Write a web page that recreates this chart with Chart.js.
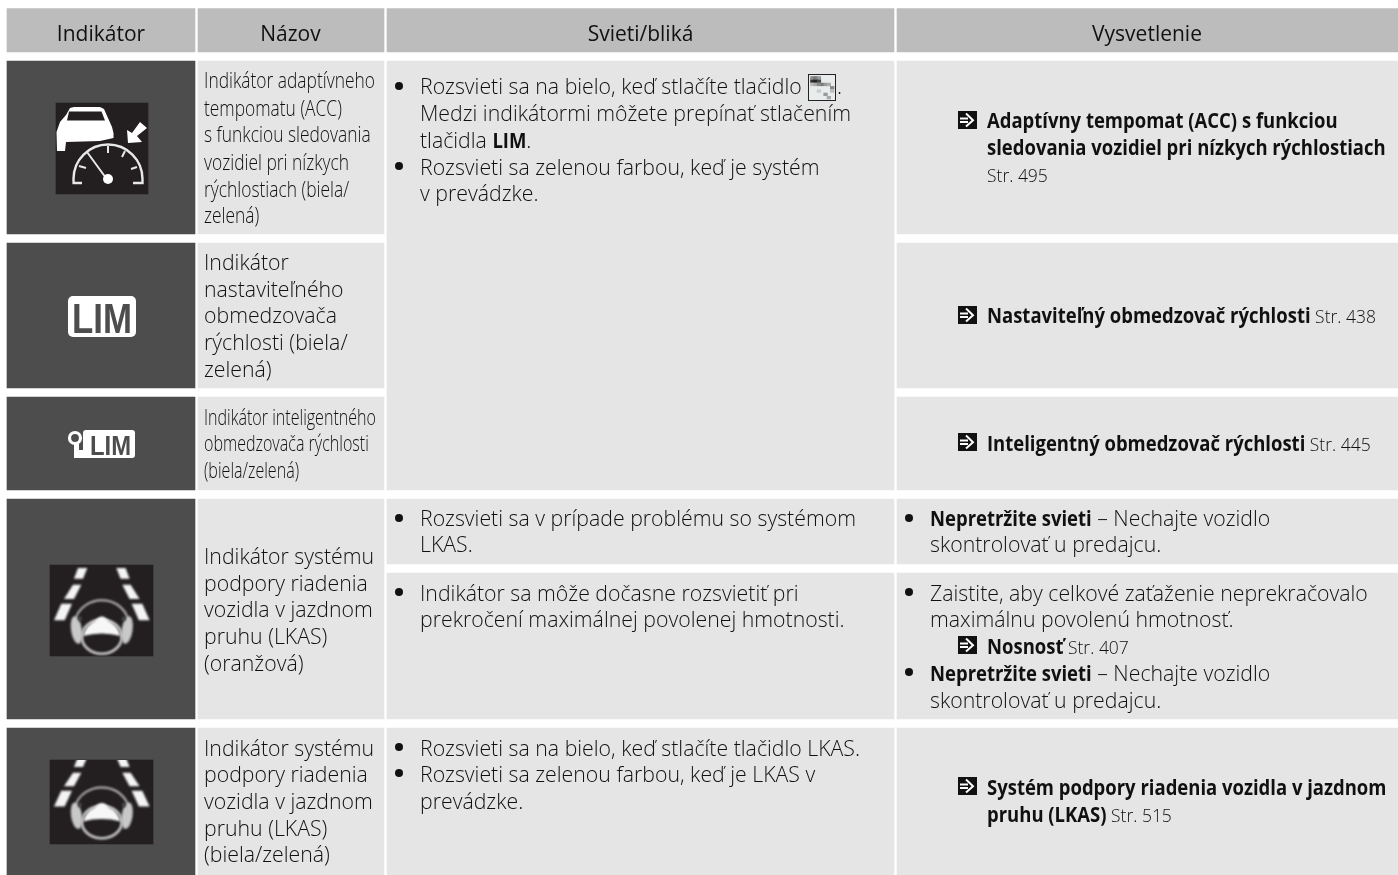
<!DOCTYPE html>
<html lang="sk"><head><meta charset="utf-8"><title>Indikátory</title>
<style>html,body{margin:0;padding:0;background:#fff}canvas{display:block}</style>
<script src="https://cdn.jsdelivr.net/npm/chart.js@4/dist/chart.umd.min.js"></script>
</head><body><canvas id="c" width="1398" height="875"></canvas>
<script>
// ---- content ----
const columnHeaders = ["Indikátor","Názov","Svieti/bliká","Vysvetlenie"];
const nameAcc = ["Indikátor adaptívneho","tempomatu (ACC)","s funkciou sledovania","vozidiel pri nízkych","rýchlostiach (biela/","zelená)"];
const nameLim = ["Indikátor","nastaviteľného","obmedzovača","rýchlosti (biela/","zelená)"];
const nameSmart = ["Indikátor inteligentného","obmedzovača rýchlosti","(biela/zelená)"];
const nameLkasOrange = ["Indikátor systému","podpory riadenia","vozidla v jazdnom","pruhu (LKAS)","(oranžová)"];
const nameLkasWhite = ["Indikátor systému","podpory riadenia","vozidla v jazdnom","pruhu (LKAS)","(biela/zelená)"];
const lampUpper = ["Rozsvieti sa na bielo, keď stlačíte tlačidlo","Medzi indikátormi môžete prepínať stlačením","tlačidla **LIM**.","Rozsvieti sa zelenou farbou, keď je systém","v prevádzke."];
const lampProblem = ["Rozsvieti sa v prípade problému so systémom","LKAS."];
const lampOverload = ["Indikátor sa môže dočasne rozsvietiť pri","prekročení maximálnej povolenej hmotnosti."];
const lampLkas = ["Rozsvieti sa na bielo, keď stlačíte tlačidlo LKAS.","Rozsvieti sa zelenou farbou, keď je LKAS v","prevádzke."];
const explainAcc = ["**Adaptívny tempomat (ACC) s funkciou**","**sledovania vozidiel pri nízkych rýchlostiach**","Str. 495"];
const explainLim = ["**Nastaviteľný obmedzovač rýchlosti** Str. 438"];
const explainSmart = ["**Inteligentný obmedzovač rýchlosti** Str. 445"];
const explainDealer = ["**Nepretržite svieti** – Nechajte vozidlo","skontrolovať u predajcu."];
const explainLoad = ["Zaistite, aby celkové zaťaženie neprekračovalo","maximálnu povolenú hmotnosť."];
const explainLoadRef = ["**Nosnosť** Str. 407"];
const explainLkas = ["**Systém podpory riadenia vozidla v jazdnom**","**pruhu (LKAS)** Str. 515"];

// ---- table geometry (not data) ----
const colEdges = [[7,195],[198,384],[387,894],[897,1398]];
const bands = {head:[8.5,52],r1:[61,234],r2:[243,388],r3:[397,490],r4:[499,719],r5:[728,875],
  c4a:[499,564],c4b:[573,719],upper:[61,490]};
const GREY_H="#bcbcbc", GREY="#e5e5e5", DARK="#4d4d4d", ICON="#231f20";
const cellSpec = [
  [0,"head",GREY_H],[1,"head",GREY_H],[2,"head",GREY_H],[3,"head",GREY_H],
  [0,"r1",DARK],[0,"r2",DARK],[0,"r3",DARK],[0,"r4",DARK],[0,"r5",DARK],
  [1,"r1",GREY],[1,"r2",GREY],[1,"r3",GREY],[1,"r4",GREY],[1,"r5",GREY],
  [2,"upper",GREY],[2,"c4a",GREY],[2,"c4b",GREY],[2,"r5",GREY],
  [3,"r1",GREY],[3,"r2",GREY],[3,"r3",GREY],[3,"c4a",GREY],[3,"c4b",GREY],[3,"r5",GREY]
];
const iconBoxes = [[56,148,103,194],[50,153,565,656],[50,153,760,844]];
const datasets = cellSpec.map(([c,b,col])=>{
  const [y0,y1]=bands[b];
  return {data:[{x:colEdges[c],y:(y0+y1)/2}],backgroundColor:col,barThickness:y1-y0,grouped:false,borderWidth:0,order:2};
}).concat(iconBoxes.map(([x0,x1,y0,y1])=>({data:[{x:[x0,x1],y:(y0+y1)/2}],backgroundColor:ICON,barThickness:y1-y0,grouped:false,borderWidth:0,order:1})));

const INK="#111011";
const FONT="'Open Sans'";
const BOLD_K=0.84;
function segs(s){
  // bold runs are marked with **; page references ("Str. 495") are set a little smaller
  const out=[];
  s.split("**").forEach((t,i)=>{
    if(!t)return;
    if(i%2===1){out.push({t,b:true});return;}
    const m=t.match(/^(.*?)(Str\. \d+)$/);
    if(m){if(m[1])out.push({t:m[1],ref:true});out.push({t:m[2],ref:true});}
    else out.push({t});
  });
  return out;
}
function line(ctx,s,x,y,o={}){
  const size=o.size||22,k=o.k||0.967,w=o.weight||300;
  ctx.save();ctx.fillStyle=INK;ctx.textBaseline="alphabetic";ctx.textAlign="left";
  let cx=x;
  for(const g of segs(s)){
    const kk=g.b?BOLD_K:(g.ref?0.92:k);
    ctx.font=`${g.b?700:w} ${g.ref?19:size}px ${FONT}`;
    ctx.save();ctx.translate(cx,y);ctx.scale(kk,1);ctx.fillText(g.t,0,0);ctx.restore();
    cx+=ctx.measureText(g.t).width*kk;
  }
  ctx.restore();
}
function block(ctx,lines,x,ys,o){lines.forEach((l,i)=>line(ctx,l,x,ys[i],o));}
function bullet(ctx,x,y){ctx.fillStyle="#111";ctx.beginPath();ctx.arc(x,y,4,0,7);ctx.fill();}
function poly(ctx,pts){ctx.beginPath();pts.forEach((p,i)=>i?ctx.lineTo(p[0],p[1]):ctx.moveTo(p[0],p[1]));ctx.closePath();ctx.fill();}
function arrowBox(ctx,x,y){
  ctx.fillStyle="#111";ctx.fillRect(x,y,19,18);
  ctx.strokeStyle="#fff";ctx.lineWidth=2;ctx.lineJoin="miter";
  ctx.beginPath();ctx.moveTo(x+2,y+7.5);ctx.lineTo(x+10,y+7.5);ctx.moveTo(x+2,y+11);ctx.lineTo(x+10,y+11);ctx.stroke();
  ctx.beginPath();ctx.moveTo(x+8,y+2.5);ctx.lineTo(x+15,y+9.2);ctx.lineTo(x+8,y+15.5);ctx.stroke();
}
function accIcon(ctx){
  ctx.save();ctx.filter="blur(0.4px)";ctx.fillStyle="#fff";ctx.strokeStyle="#fff";
  poly(ctx,[[57,151],[56.5,132],[60,122],[66,115],[70,108],[74,107],[100,107],[104,109],[108,118],[112,127],[113.5,133],[113.5,138],[100,141],[66,142],[65,151]]);
  ctx.fillStyle=ICON;poly(ctx,[[69,111.5],[101.5,111.5],[105,120.5],[67,120.5]]);
  ctx.beginPath();ctx.arc(108,179,38.5,Math.PI,2*Math.PI);ctx.fill();
  ctx.strokeStyle="#e8e8e8";ctx.lineWidth=2.4;ctx.beginPath();ctx.moveTo(82,183);ctx.lineTo(73.6,183);ctx.arc(108,179,34.5,Math.PI*1.0,Math.PI*2.0);ctx.lineTo(142.5,183);ctx.lineTo(133,183);ctx.stroke();
  ctx.lineWidth=2;ctx.beginPath();
  ctx.moveTo(108,146);ctx.lineTo(108,153);ctx.moveTo(125,151);ctx.lineTo(122,157);ctx.moveTo(137,167);ctx.lineTo(131,169);
  ctx.moveTo(79,166);ctx.lineTo(86,168);ctx.moveTo(87,152);ctx.lineTo(106,178);ctx.stroke();
  ctx.fillStyle="#fff";ctx.beginPath();ctx.arc(108,179,5,0,7);ctx.fill();
  poly(ctx,[[127,130],[128,143],[142,142],[137,136],[147,128],[140,122],[132,133]]);
  ctx.restore();
}
function roundBox(ctx,x,y,w,h,r){ctx.beginPath();ctx.roundRect(x,y,w,h,r);ctx.fill();}
function fitText(ctx,t,x,y,font,w){
  ctx.save();ctx.font=font;const m=ctx.measureText(t).width;ctx.translate(x,y);ctx.scale(w/m,1);ctx.textAlign="left";ctx.fillText(t,0,0);ctx.restore();
}
function limIcon(ctx){
  ctx.fillStyle="#fff";roundBox(ctx,68,296,68,41,5);
  ctx.fillStyle=DARK;fitText(ctx,"LIM",72,333,"700 43px 'Liberation Sans'",60);
}
function keyLimIcon(ctx){
  ctx.fillStyle="#fff";roundBox(ctx,83,430,52,28,3);ctx.fillRect(74,450,12,8);
  ctx.strokeStyle="#fff";ctx.lineWidth=3.2;ctx.beginPath();ctx.arc(75,438,5.5,0,7);ctx.stroke();
  ctx.fillRect(74,444,5,14);
  ctx.fillStyle=DARK;fitText(ctx,"LIM",90,455,"700 28px 'Liberation Sans'",41);
}
function lkasIcon(ctx,y0,sy,box){
  const Y=v=>y0+v*sy, C=203.6;
  ctx.save();ctx.beginPath();ctx.rect(box[0],box[2],box[1]-box[0],box[3]-box[2]);ctx.clip();
  ctx.filter="blur(0.8px)";ctx.fillStyle="#f4f4f4";
  const dashes=[[[78,3],[87.3,3],[83,13.7],[74,13.7]],[[73,19.7],[81.3,19.7],[74,34],[64,34]],[[61.3,38.7],[72,38.7],[64.7,55.3],[54,55.3]]];
  for(const d of dashes){for(const m of [0,1]){ctx.beginPath();d.forEach((p,i)=>{const x=m?C-p[0]:p[0];i?ctx.lineTo(x,Y(p[1])):ctx.moveTo(x,Y(p[1]));});ctx.closePath();ctx.fill();}}
  ctx.strokeStyle="#bdbdbd";ctx.lineWidth=2;
  ctx.beginPath();ctx.ellipse(101.8,Y(60),27,24.7*sy,0,Math.PI*1.05,Math.PI*1.95);ctx.stroke();
  ctx.strokeStyle="#cfcfcf";ctx.lineWidth=2.6;
  ctx.beginPath();ctx.ellipse(101.8,Y(71.7),20,17*sy,0,0,7);ctx.stroke();
  ctx.fillStyle="#c8c8c8";
  ctx.beginPath();ctx.ellipse(76.5,Y(65),5.5,14*sy,-0.15,0,7);ctx.fill();
  ctx.beginPath();ctx.ellipse(127.1,Y(65),5.5,14*sy,0.15,0,7);ctx.fill();
  ctx.fillStyle="#4a4a4a";ctx.beginPath();ctx.arc(79.7,Y(53.7),2.2,0,7);ctx.fill();ctx.beginPath();ctx.arc(123.9,Y(53.7),2.2,0,7);ctx.fill();
  ctx.fillStyle="#f7f7f7";ctx.beginPath();ctx.moveTo(83,Y(71));ctx.quadraticCurveTo(86,Y(60),95,Y(56));ctx.quadraticCurveTo(101.8,Y(47),108.6,Y(56));ctx.quadraticCurveTo(117.6,Y(60),120.6,Y(71));ctx.quadraticCurveTo(101.8,Y(66),83,Y(71));ctx.fill();
  ctx.restore();
}
function buttonGlyph(ctx){
  const x=808,y=74;
  ctx.fillStyle="#e9ecec";ctx.fillRect(x,y,28,27);
  const px=[[2,2,3,"#8a8a8a"],[5,2,3,"#777"],[8,2,3,"#999"],[2,5,3,"#333"],[5,5,3,"#222"],[8,5,3,"#444"],[11,8,3,"#777"],[14,8,3,"#999"],[2,8,3,"#bbb"],[5,8,3,"#aaa"],[8,8,3,"#888"],[17,8,3,"#aaa"],[20,11,3,"#888"],[20,14,3,"#bbb"],[14,17,3,"#999"],[17,20,3,"#aaa"],[8,14,3,"#ccc"]];
  px.forEach(p=>{ctx.fillStyle=p[3];ctx.fillRect(x+p[0]*1.1,y+p[1]*1.1,p[2]*1.1+1,p[2]*1.1);});
  ctx.strokeStyle="#222";ctx.lineWidth=1;ctx.strokeRect(x+.5,y+.5,27,26);
}

const tablePlugin={id:"tableText",afterDatasetsDraw(chart){
  const ctx=chart.ctx;
  const hx=[101,290.5,640.5,1147];
  columnHeaders.forEach((h,i)=>{ctx.save();ctx.font=`400 21px ${FONT}`;ctx.fillStyle="#111";ctx.textAlign="center";ctx.fillText(h,hx[i],41);ctx.restore();});
  block(ctx,nameAcc,204,[88,116,142,170,197,223],{k:0.79});
  block(ctx,nameLim,204,[270,297,323,350,377]);
  block(ctx,nameSmart,204,[425,451,478],{k:0.73});
  block(ctx,nameLkasOrange,204,[564,591,617,644,671]);
  block(ctx,nameLkasWhite,204,[756,782,809,836,862]);
  block(ctx,lampUpper,420,[94,121,148,175,201]);
  line(ctx,".",837,94);
  block(ctx,lampProblem,420,[526,552]);
  block(ctx,lampOverload,420,[601,627]);
  block(ctx,lampLkas,420,[756,782,809]);
  [[399,86],[399,166],[399,518],[399,592],[399,747],[399,773]].forEach(p=>bullet(ctx,p[0],p[1]));
  block(ctx,explainAcc,987,[128,155,182]);
  block(ctx,explainLim,987,[323]);
  block(ctx,explainSmart,987,[451]);
  block(ctx,explainDealer,930,[526,552]);
  block(ctx,explainLoad,930,[601,627]);
  block(ctx,explainLoadRef,987,[654]);
  block(ctx,explainDealer,930,[681,708]);
  block(ctx,explainLkas,987,[795,822]);
  [[909,518],[909,592],[909,672]].forEach(p=>bullet(ctx,p[0],p[1]));
  [[958,111],[958,306],[958,433],[958,636],[958,777]].forEach(p=>arrowBox(ctx,p[0],p[1]));
  accIcon(ctx);limIcon(ctx);keyLimIcon(ctx);
  lkasIcon(ctx,565,1,iconBoxes[1]);lkasIcon(ctx,754,0.95,iconBoxes[2]);buttonGlyph(ctx);
}};
new Chart(document.getElementById("c"),{type:"bar",data:{datasets},plugins:[tablePlugin],options:{
  indexAxis:"y",responsive:false,animation:false,
  layout:{padding:0},
  plugins:{legend:{display:false},tooltip:{enabled:false},title:{display:false}},
  scales:{x:{type:"linear",min:0,max:1398,display:false},y:{type:"linear",min:0,max:875,reverse:true,offset:false,display:false}}
}});
</script></body></html>
